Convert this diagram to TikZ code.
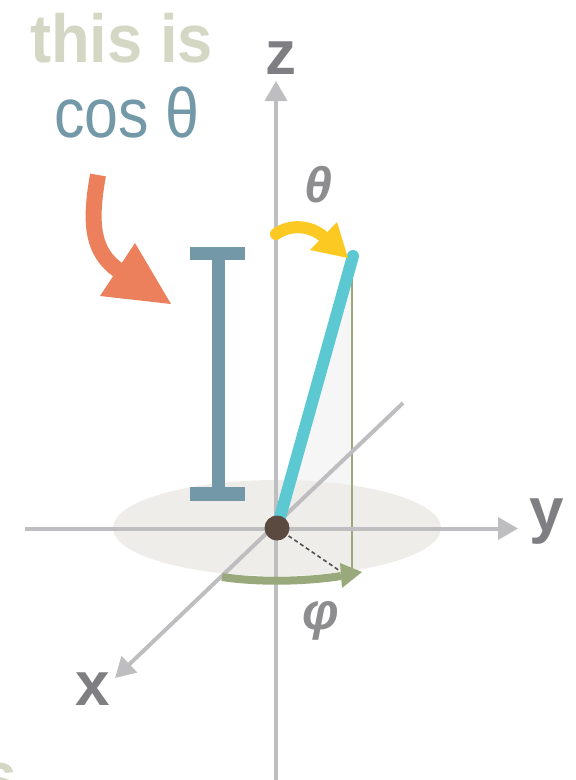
\documentclass[tikz,border=0pt]{standalone}
\usepackage{fontspec}
\setmainfont{Liberation Sans}
\usetikzlibrary{arrows.meta}
\definecolor{thisc}{HTML}{D4D7C4}
\definecolor{cosc}{HTML}{7399A8}
\definecolor{labc}{HTML}{7F7E83}
\definecolor{greekc}{HTML}{8D8D8F}
\definecolor{axisc}{HTML}{BEBEC0}
\definecolor{ellc}{HTML}{EEEDE9}
\definecolor{shadec}{HTML}{F6F6F6}
\definecolor{cyc}{HTML}{5BC8D2}
\definecolor{yelc}{HTML}{FCC822}
\definecolor{orc}{HTML}{EC805D}
\definecolor{grc}{HTML}{99A97C}
\definecolor{dotc}{HTML}{5A4A40}
\definecolor{dashc}{HTML}{505050}
\begin{document}
\begin{tikzpicture}[x=1pt,y=-1pt,
  axis/.style={draw=axisc,line width=4pt,-{Triangle[length=20pt,width=22pt]}},
  lbl/.style={text=labc,font=\fontsize{62}{62}\selectfont\bfseries,inner sep=0pt,anchor=base},
  greek/.style={text=greekc,inner sep=0pt,anchor=base},
  bigtext/.style={inner sep=0pt,anchor=base west}]
\useasboundingbox (0,0) rectangle (576,780);
\clip (0,0) rectangle (576,780);
% key points
\coordinate (O) at (277,528);
\coordinate (V) at (353,256);
\coordinate (P) at (352,572);
% shaded triangle and horizontal plane
\fill[shadec] (O) -- (V) -- (P) -- cycle;
\fill[ellc] (O) ellipse [x radius=164pt, y radius=48pt];
% projection line
\draw[grc, line width=1.5pt] (352,257) -- (352,570);
% axes
\coordinate (zb) at (276,780); \coordinate (zt) at (276,81);
\coordinate (yb) at (25,528.5); \coordinate (yt) at (518,528.5);
\coordinate (xb) at (403,403); \coordinate (xt) at (115,678);
\draw[axis] (zb) -- (zt);
\draw[axis] (yb) -- (yt);
\draw[axis] (xb) -- (xt);
% dashed projection
\coordinate (dE) at (340,571);
\draw[dashc, line width=1.6pt, dash pattern=on 4pt off 3pt] (O) -- (dE);
% phi arrow
\coordinate (p0) at (222,577); \coordinate (p1) at (341,576);
\draw[grc, line width=8pt] (p0) .. controls (262,583) and (310,581) .. (p1);
\fill[grc] (362,572) -- (340,563) -- (342,588) -- cycle;
% vector
\draw[cyc, line width=12pt, line cap=round] (O) -- (V);
\node[circle, fill=dotc, minimum size=25pt, inner sep=0pt] (dot) at (O) {};
% I-beam
\fill[cosc] (190,247) rectangle (245,260);
\fill[cosc] (212,247) rectangle (225,501);
\fill[cosc] (190,487) rectangle (245,501);
% theta arrow
\coordinate (t0) at (276,234); \coordinate (t1) at (324,237);
\draw[yelc, line width=12pt, line cap=round] (t0) .. controls (290,224) and (310,225) .. (t1);
\fill[yelc] (348,258) -- (337,222) -- (310,250) -- cycle;
% orange arrow
\coordinate (o0) at (98,175); \coordinate (o1) at (118,270);
\draw[orc, line width=16pt] (o0) .. controls (89,225) and (93,252) .. (o1);
\fill[orc] (171,304) -- (135,243) -- (100,296) -- cycle;
% labels
\node[lbl] (zl) at (281,74) {z};
\node[lbl] (yl) at (547,531) {y};
\node[lbl] (xl) at (93,705) {x};
\node[greek, font=\fontsize{50}{50}\selectfont\bfseries\itshape] (thl) at (318,202) {θ};
\node[greek, font=\fontsize{52}{52}\selectfont\bfseries\itshape] (phl) at (321,629) {φ};
\node[bigtext, text=thisc, font=\fontsize{68}{68}\selectfont\bfseries] (t1) at (30,62) {\scalebox{0.93}[1]{this is}};
\node[bigtext, text=cosc, font=\fontsize{70}{70}\selectfont] (t2) at (54,137) {\scalebox{0.87}[1]{cos θ}};
\node[inner sep=0pt, anchor=base, text=thisc, font=\fontsize{68}{68}\selectfont\bfseries] (s) at (-2,799) {s};
\end{tikzpicture}
\end{document}
